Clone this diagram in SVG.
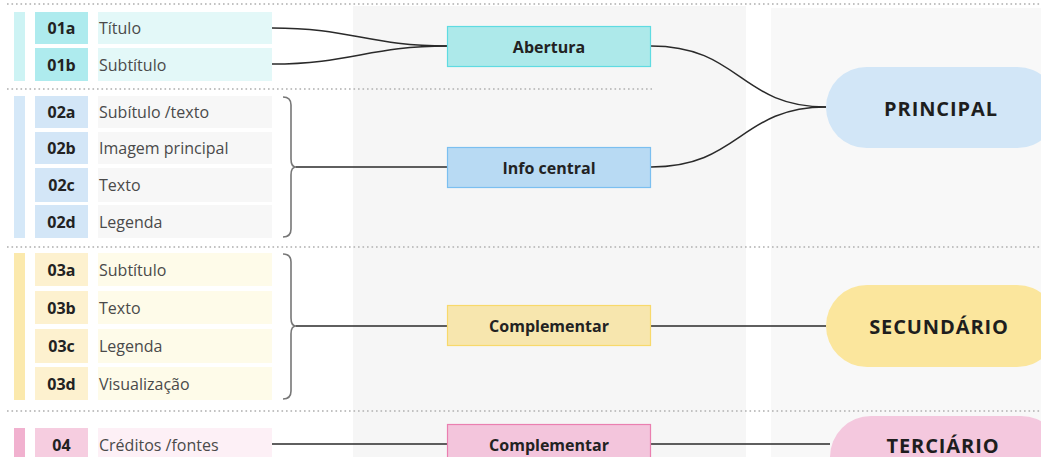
<svg xmlns="http://www.w3.org/2000/svg" width="1041" height="457" viewBox="0 0 1041 457">
<style>
.code{font-family:"Open Sans","Noto Sans",sans-serif;font-weight:700;font-size:16px;fill:#222;text-anchor:middle;dominant-baseline:central}
.lbl{font-family:"Open Sans","Noto Sans",sans-serif;font-size:16px;fill:#4a4a4a;dominant-baseline:central}
.mid{font-family:"Open Sans","Noto Sans",sans-serif;font-weight:700;font-size:16px;fill:#222;text-anchor:middle;dominant-baseline:central}
.big{font-family:"Open Sans","Noto Sans",sans-serif;font-weight:700;font-size:20px;fill:#1e1e1e;text-anchor:middle;dominant-baseline:central;letter-spacing:0.9px}
.dot{stroke:#c2c2c2;stroke-width:2;stroke-dasharray:1.6 2.9;fill:none}
.con{fill:none;stroke:#2a2a2a;stroke-width:1.5}
.brace{fill:none;stroke:#777;stroke-width:1.6}
</style>
<rect width="1041" height="457" fill="#ffffff"/>
<g id="background">
<rect x="353" y="6" width="393" height="451" fill="#f6f6f6"/>
<rect x="771" y="8" width="270" height="449" fill="#f8f8f8"/>
<line class="dot" x1="7" y1="4" x2="1041" y2="4"/>
<line class="dot" x1="7" y1="89" x2="652" y2="89"/>
<line class="dot" x1="7" y1="247" x2="1041" y2="247"/>
<line class="dot" x1="7" y1="411" x2="1041" y2="411"/>
</g>
<g id="connectors">
<path class="con" d="M272,28 C350,28 370,46 447,46"/>
<path class="con" d="M272,64 C350,64 370,46 447,46"/>
<path class="con" d="M651,46 C740,46 740,107 826,107"/>
<path class="con" d="M651,167 C740,167 740,107 826,107"/>
<path class="brace" d="M283,97 Q291,97 291,105 L291,159 Q291,167 296,167 Q291,167 291,175 L291,229 Q291,237 283,237"/>
<line class="con" x1="296" y1="167" x2="447" y2="167" stroke="#444"/>
<path class="brace" d="M283,254 Q291,254 291,262 L291,318 Q291,326 296,326 Q291,326 291,334 L291,391 Q291,399 283,399"/>
<line class="con" x1="296" y1="326" x2="447" y2="326" stroke="#555"/>
<line class="con" x1="651" y1="326" x2="826" y2="326" stroke="#555"/>
<line class="con" x1="272" y1="444" x2="447" y2="444"/>
<line class="con" x1="651" y1="444" x2="830" y2="444"/>
</g>
<g id="section1">
<rect x="14" y="12" width="11" height="69" fill="#cdf3f4"/>
<g id="row-01a"><rect x="35" y="12" width="53" height="32" fill="#aeebee"/><rect x="98" y="12" width="174" height="32" fill="#e3f8f8"/><text class="code" x="61.5" y="28">01a</text><text class="lbl" x="99" y="28">Título</text></g>
<g id="row-01b"><rect x="35" y="48" width="53" height="33" fill="#aeebee"/><rect x="98" y="48" width="174" height="33" fill="#e3f8f8"/><text class="code" x="61.5" y="64.5">01b</text><text class="lbl" x="99" y="64.5">Subtítulo</text></g>
</g>
<g id="section2">
<rect x="14" y="96" width="11" height="142" fill="#d5e8f8"/>
<g id="row-02a"><rect x="35" y="96" width="53" height="32" fill="#d3e6f7"/><rect x="98" y="96" width="174" height="32" fill="#f7f7f7"/><text class="code" x="61.5" y="112">02a</text><text class="lbl" x="99" y="112">Subítulo /texto</text></g>
<g id="row-02b"><rect x="35" y="132" width="53" height="32" fill="#d3e6f7"/><rect x="98" y="132" width="174" height="32" fill="#f7f7f7"/><text class="code" x="61.5" y="148">02b</text><text class="lbl" x="99" y="148">Imagem principal</text></g>
<g id="row-02c"><rect x="35" y="168" width="53" height="34" fill="#d3e6f7"/><rect x="98" y="168" width="174" height="34" fill="#f7f7f7"/><text class="code" x="61.5" y="185">02c</text><text class="lbl" x="99" y="185">Texto</text></g>
<g id="row-02d"><rect x="35" y="205" width="53" height="33" fill="#d3e6f7"/><rect x="98" y="205" width="174" height="33" fill="#f7f7f7"/><text class="code" x="61.5" y="221.5">02d</text><text class="lbl" x="99" y="221.5">Legenda</text></g>
</g>
<g id="section3">
<rect x="14" y="253" width="11" height="147" fill="#fbe9ad"/>
<g id="row-03a"><rect x="35" y="253" width="53" height="33" fill="#fdf1cf"/><rect x="98" y="253" width="174" height="33" fill="#fefbe9"/><text class="code" x="61.5" y="269.5">03a</text><text class="lbl" x="99" y="269.5">Subtítulo</text></g>
<g id="row-03b"><rect x="35" y="291" width="53" height="33" fill="#fdf1cf"/><rect x="98" y="291" width="174" height="33" fill="#fefbe9"/><text class="code" x="61.5" y="307.5">03b</text><text class="lbl" x="99" y="307.5">Texto</text></g>
<g id="row-03c"><rect x="35" y="329" width="53" height="34" fill="#fdf1cf"/><rect x="98" y="329" width="174" height="34" fill="#fefbe9"/><text class="code" x="61.5" y="346">03c</text><text class="lbl" x="99" y="346">Legenda</text></g>
<g id="row-03d"><rect x="35" y="367" width="53" height="33" fill="#fdf1cf"/><rect x="98" y="367" width="174" height="33" fill="#fefbe9"/><text class="code" x="61.5" y="383.5">03d</text><text class="lbl" x="99" y="383.5">Visualização</text></g>
</g>
<g id="section4">
<rect x="14" y="428" width="11" height="29" fill="#f1b1cf"/>
<g id="row-04"><rect x="35" y="428" width="53" height="29" fill="#f6cde0"/><rect x="98" y="428" width="174" height="29" fill="#fdf0f6"/><text class="code" x="61.5" y="444.5">04</text><text class="lbl" x="99" y="444.5">Créditos /fontes</text></g>
</g>
<g id="node-abertura"><rect x="447.5" y="26.5" width="203" height="40" fill="#ade9ea" stroke="#5fdbe2" stroke-width="1.2"/><text class="mid" x="549" y="46.5">Abertura</text></g>
<g id="node-info-central"><rect x="447.5" y="147.5" width="203" height="40" fill="#b8daf3" stroke="#7bbff0" stroke-width="1.2"/><text class="mid" x="549" y="167.5">Info central</text></g>
<g id="node-complementar-1"><rect x="447.5" y="305.5" width="203" height="40" fill="#f7e6ae" stroke="#f8d96b" stroke-width="1.2"/><text class="mid" x="549" y="326">Complementar</text></g>
<g id="node-complementar-2"><rect x="447.5" y="424.5" width="203" height="40" fill="#f3c5dc" stroke="#ea7fb0" stroke-width="1.2"/><text class="mid" x="549" y="445">Complementar</text></g>
<g id="node-principal"><rect x="826" y="67" width="232" height="81" rx="40.5" fill="#d2e6f7"/><text class="big" x="941" y="108">PRINCIPAL</text></g>
<g id="node-secundario"><rect x="826" y="285" width="232" height="82" rx="41" fill="#fbe69d"/><text class="big" x="939" y="326.5">SECUNDÁRIO</text></g>
<g id="node-terciario"><rect x="830" y="416" width="232" height="82" rx="41" fill="#f4c8de"/><text class="big" x="943" y="445">TERCIÁRIO</text></g>
</svg>
